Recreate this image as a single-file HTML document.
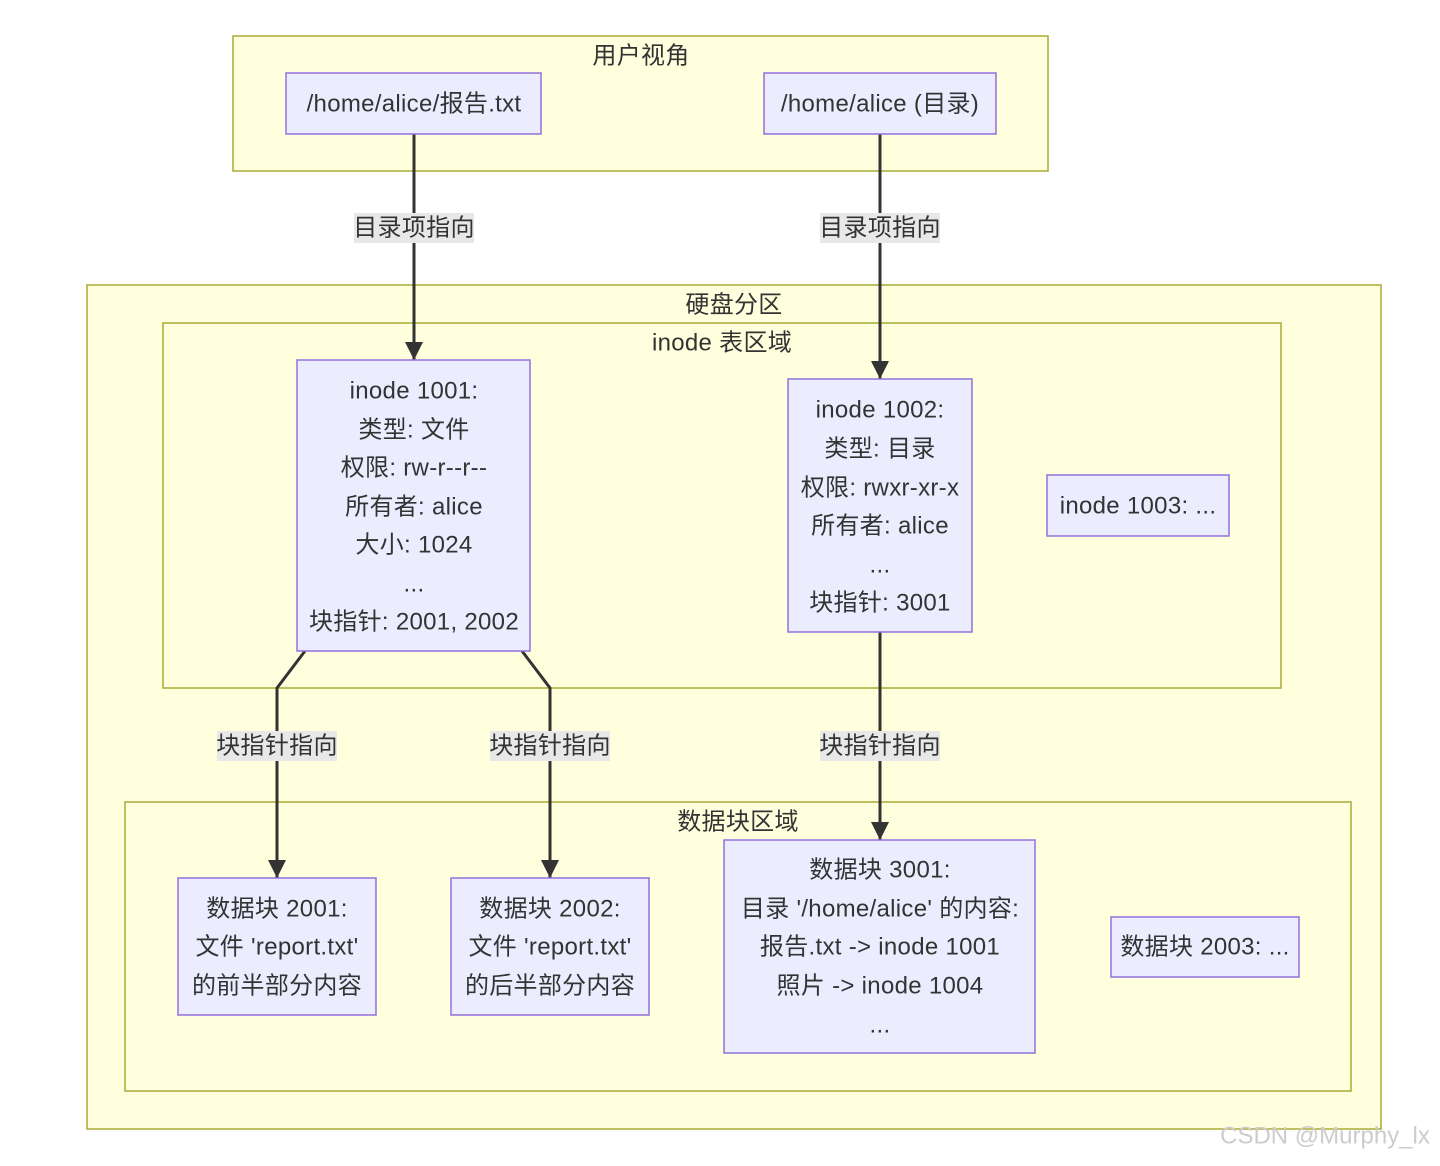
<!DOCTYPE html>
<html><head><meta charset="utf-8"><style>
html,body{margin:0;padding:0;background:#fff;}
text{font-family:"Liberation Sans","Noto Sans CJK SC",sans-serif;font-size:24px;fill:#333;text-anchor:middle;dominant-baseline:central;letter-spacing:0.3px;}
.c{fill:#ffffde;stroke:#aaaa33;stroke-width:1.5;}
.n{fill:#ececff;stroke:#9370db;stroke-width:1.5;}
.e{fill:none;stroke:#333;stroke-width:3;}
.lb{fill:#e8e8e8;}
</style></head><body>
<svg width="1440" height="1161" viewBox="0 0 1440 1161" xmlns="http://www.w3.org/2000/svg">
<defs>
<marker id="m" viewBox="0 0 10 10" refX="10" refY="5" markerWidth="6" markerHeight="6" orient="auto"><path d="M0,0L10,5L0,10z" fill="#333"/></marker></defs>
<rect class="c" x="233" y="36" width="815" height="135"/>
<text x="641" y="56">用户视角</text>
<rect class="c" x="87" y="285" width="1294" height="844"/>
<text x="734" y="305">硬盘分区</text>
<rect class="c" x="163" y="323" width="1118" height="365"/>
<text x="722" y="343">inode 表区域</text>
<rect class="c" x="125" y="802" width="1226" height="289"/>
<text x="738" y="822">数据块区域</text>

<path class="e" d="M414,134V360" marker-end="url(#m)"/>
<path class="e" d="M880,134V379" marker-end="url(#m)"/>
<path class="e" d="M305,651L277,688V878" marker-end="url(#m)"/>
<path class="e" d="M522,651L550,688V878" marker-end="url(#m)"/>
<path class="e" d="M880,632V840" marker-end="url(#m)"/>

<rect class="lb" x="354" y="213" width="120" height="30"/><text x="414" y="228">目录项指向</text>
<rect class="lb" x="820" y="213" width="120" height="30"/><text x="880" y="228">目录项指向</text>
<rect class="lb" x="217" y="731" width="120" height="30"/><text x="277" y="746">块指针指向</text>
<rect class="lb" x="490" y="731" width="120" height="30"/><text x="550" y="746">块指针指向</text>
<rect class="lb" x="820" y="731" width="120" height="30"/><text x="880" y="746">块指针指向</text>

<rect class="n" x="286" y="73" width="255" height="61"/><text x="414" y="104">/home/alice/报告.txt</text>
<rect class="n" x="764" y="73" width="232" height="61"/><text x="880" y="104">/home/alice (目录)</text>

<rect class="n" x="297" y="360" width="233" height="291"/>
<text x="414" y="391">inode 1001:</text><text x="414" y="430">类型: 文件</text><text x="414" y="468">权限: rw-r--r--</text><text x="414" y="507">所有者: alice</text><text x="414" y="545">大小: 1024</text><text x="414" y="584">...</text><text x="414" y="622">块指针: 2001, 2002</text>

<rect class="n" x="788" y="379" width="184" height="253"/>
<text x="880" y="410">inode 1002:</text><text x="880" y="449">类型: 目录</text><text x="880" y="488">权限: rwxr-xr-x</text><text x="880" y="526">所有者: alice</text><text x="880" y="565">...</text><text x="880" y="603">块指针: 3001</text>

<rect class="n" x="1047" y="475" width="182" height="61"/><text x="1138" y="506">inode 1003: ...</text>

<rect class="n" x="178" y="878" width="198" height="137"/>
<text x="277" y="909">数据块 2001:</text><text x="277" y="947">文件 'report.txt'</text><text x="277" y="986">的前半部分内容</text>
<rect class="n" x="451" y="878" width="198" height="137"/>
<text x="550" y="909">数据块 2002:</text><text x="550" y="947">文件 'report.txt'</text><text x="550" y="986">的后半部分内容</text>
<rect class="n" x="724" y="840" width="311" height="213"/>
<text x="880" y="870">数据块 3001:</text><text x="880" y="909">目录 '/home/alice' 的内容:</text><text x="880" y="947">报告.txt -&gt; inode 1001</text><text x="880" y="986">照片 -&gt; inode 1004</text><text x="880" y="1025">...</text>
<rect class="n" x="1111" y="917" width="188" height="60"/><text x="1205" y="947">数据块 2003: ...</text>

<text x="1325" y="1136" style="fill:#ccc;font-size:24px;letter-spacing:0">CSDN @Murphy_lx</text>
</svg>
</body></html>
